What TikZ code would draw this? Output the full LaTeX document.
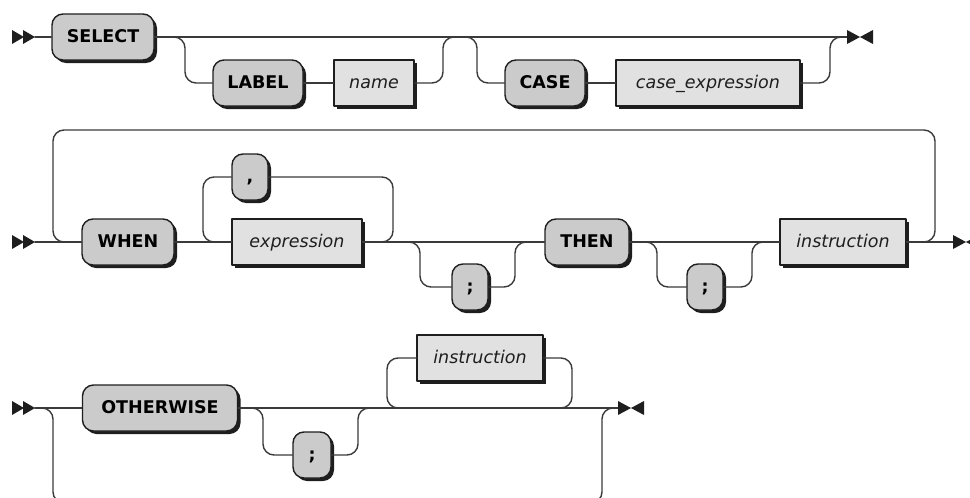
\documentclass[tikz,border=0pt]{standalone}
\usepackage{fontspec}
\setmainfont{DejaVu Sans}
\usetikzlibrary{shadows}
\definecolor{railline}{HTML}{3A3A3A}
\definecolor{boxedge}{HTML}{1E1E1E}
\definecolor{keywordfill}{HTML}{CBCBCB}
\definecolor{termfill}{HTML}{E1E1E1}

\begin{document}
\begin{tikzpicture}[
  x=1pt,
  y=-1pt,
  line join=round,
  line cap=round,
  rail/.style={draw=railline,line width=1.4pt,rounded corners=11pt},
  boxshadow/.style={drop shadow={shadow xshift=3pt,shadow yshift=-3pt,opacity=1,fill=boxedge}},
  keyword/.style={draw=boxedge,fill=keywordfill,line width=1.4pt,rounded corners=11pt,
    minimum height=46pt,inner xsep=0pt,text height=12.5pt,text depth=2pt,
    font={\fontsize{17.5}{20}\selectfont\bfseries},boxshadow},
  term/.style={draw=boxedge,fill=termfill,line width=1.2pt,text=boxedge,
    minimum height=46pt,inner xsep=0pt,text height=12.5pt,text depth=2pt,
    font={\fontsize{17.5}{20}\selectfont\itshape},boxshadow},
  railmark/.style={fill=boxedge,draw=none}
]
  \useasboundingbox (0,0) rectangle (970,498);
  \clip (0,0) rectangle (970,498);

  % First rule: SELECT with optional LABEL and CASE.
  \node[keyword,minimum width=102pt] (select) at (103,37) {SELECT};
  \node[keyword,minimum width=90pt] (label) at (258,83) {LABEL};
  \node[term,minimum width=80pt] (name) at (374,83) {name};
  \node[keyword,minimum width=80pt] (case) at (545,83) {CASE};
  \node[term,minimum width=184pt] (caseexpr) at (708,83) {case\_expression};

  \coordinate (in1) at (35,37);
  \coordinate (out1) at (847,37);
  \coordinate (a1) at (185,37);
  \coordinate (a2) at (443,37);
  \coordinate (a3) at (477,37);
  \coordinate (a4) at (830,37);

  \draw[rail] (in1) -- (select.west);
  \draw[rail] (select.east) -- (out1);
  \draw[rail] (select.east) -- (a1) |- (label.west);
  \draw[rail] (label.east) -- (name.west);
  \draw[rail] (name.east) -| (a2) -- (a3) |- (case.west);
  \draw[rail] (case.east) -- (caseexpr.west);
  \draw[rail] (caseexpr.east) -| (a4) -- (out1);

  % Second rule: repeated WHEN ... THEN clauses.
  \node[keyword,minimum width=92pt] (when) at (128,242) {WHEN};
  \node[term,minimum width=130pt] (expr) at (297,242) {expression};
  \node[keyword,minimum width=36pt] (comma) at (250,177) {,};
  \node[keyword,minimum width=36pt] (semi1) at (470,287) {;};
  \node[keyword,minimum width=84pt] (then) at (587,242) {THEN};
  \node[keyword,minimum width=36pt] (semi2) at (705,287) {;};
  \node[term,minimum width=126pt] (instr) at (843,242) {instruction};

  \coordinate (in2) at (35,242);
  \coordinate (out2) at (953,242);
  \coordinate (loopL) at (53,130);
  \coordinate (loopR) at (935,130);
  \coordinate (c1) at (203,177);
  \coordinate (c2) at (393,177);
  \coordinate (d1) at (420,242);
  \coordinate (d2) at (515,242);
  \coordinate (e1) at (657,242);
  \coordinate (e2) at (752,242);

  \draw[rail] (in2) -- (when.west);
  \draw[rail] (instr.east) -| (loopR) -- (loopL) |- (when.west);
  \draw[rail] (instr.east) -- (out2);
  \draw[rail] (when.east) -- (expr.west);
  \draw[rail] (expr.east) -| (c2) -- (comma.east);
  \draw[rail] (comma.west) -- (c1) |- (expr.west);
  \draw[rail] (expr.east) -- (then.west);
  \draw[rail] (expr.east) -- (d1) |- (semi1.west);
  \draw[rail] (semi1.east) -| (d2) -- (then.west);
  \draw[rail] (then.east) -- (instr.west);
  \draw[rail] (then.east) -- (e1) |- (semi2.west);
  \draw[rail] (semi2.east) -| (e2) -- (instr.west);

  % Third rule: optional OTHERWISE branch.
  \node[keyword,minimum width=155pt] (otherwise) at (160,408) {OTHERWISE};
  \node[keyword,minimum width=38pt] (semi3) at (312,455) {;};
  \node[term,minimum width=126pt] (instr2) at (480,358) {instruction};

  \coordinate (in3) at (35,408);
  \coordinate (out3) at (618,408);
  \coordinate (byL) at (53,503);
  \coordinate (byR) at (602,503);
  \coordinate (f1) at (263,408);
  \coordinate (f2) at (358,408);
  \coordinate (lp1) at (387,358);
  \coordinate (lp1b) at (409,408);
  \coordinate (lp2) at (572,358);
  \coordinate (lp2b) at (550,408);

  \draw[rail] (in3) -- (otherwise.west);
  \draw[rail] (in3) -| (byL) -- (byR) |- (out3);
  \draw[rail] (otherwise.east) -- (out3);
  \draw[rail] (otherwise.east) -- (f1) |- (semi3.west);
  \draw[rail] (semi3.east) -| (f2) -- (lp1b);
  \draw[rail] (instr2.west) -- (lp1) |- (lp1b);
  \draw[rail] (instr2.east) -- (lp2) |- (lp2b);

  % Start and end markers.
  \foreach \p in {in1,in2,in3} {
    \fill[railmark] ([shift={(-23,-7)}]\p) -- ([shift={(-23,7)}]\p) -- ([shift={(-11,0)}]\p) -- cycle;
    \fill[railmark] ([shift={(-12,-7)}]\p) -- ([shift={(-12,7)}]\p) -- (\p) -- cycle;
  }
  \foreach \p in {out1,out2,out3} {
    \fill[railmark] ([shift={(0,-7)}]\p) -- ([shift={(0,7)}]\p) -- ([shift={(13,0)}]\p) -- cycle;
    \fill[railmark] ([shift={(26,-7)}]\p) -- ([shift={(26,7)}]\p) -- ([shift={(13,0)}]\p) -- cycle;
  }
\end{tikzpicture}
\end{document}
